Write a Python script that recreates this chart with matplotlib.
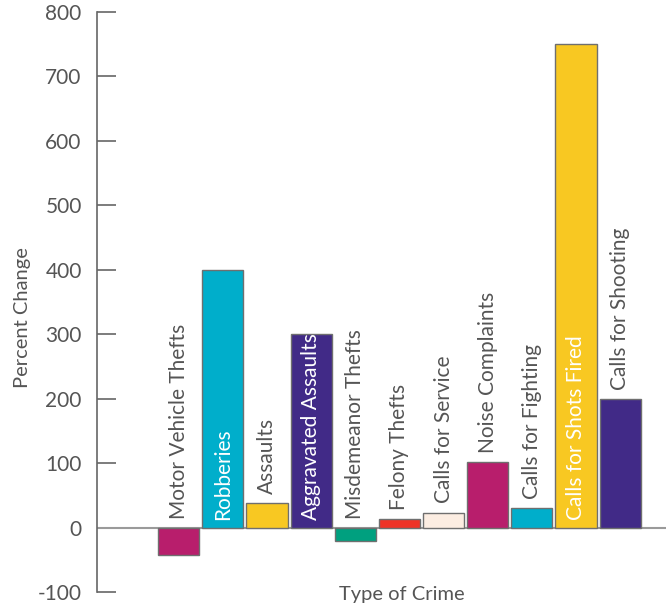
import matplotlib
matplotlib.use("Agg")
import matplotlib.pyplot as plt

plt.rcParams['font.family'] = ['Lato', 'DejaVu Sans']

categories = [
    "Motor Vehicle Thefts", "Robberies", "Assaults", "Aggravated Assaults",
    "Misdemeanor Thefts", "Felony Thefts", "Calls for Service",
    "Noise Complaints", "Calls for Fighting", "Calls for Shots Fired",
    "Calls for Shooting",
]
values = [-42, 400, 38, 300, -20, 14, 24, 103, 31, 750, 200]
colors = [
    "#B81E6C", "#00AECB", "#F8C822", "#412A87", "#00A07F", "#EE3327",
    "#FCEDE2", "#B81E6C", "#00AECB", "#F8C822", "#412A87",
]
inside_labels = {"Robberies", "Aggravated Assaults", "Calls for Shots Fired"}
yticks = [-100, 0, 100, 200, 300, 400, 500, 600, 700, 800]

text_color = "#555555"

fig = plt.figure(figsize=(6.71, 6.09), dpi=100)
ax = fig.add_axes([0.1446, 0.0271, 0.848, 0.9532])

x = list(range(len(categories)))
ax.bar(x, values, width=0.93, color=colors, edgecolor="#6f6f6f", linewidth=1.0, zorder=3)

for xi, name, v in zip(x, categories, values):
    if name in inside_labels:
        ax.text(xi, 12, name, rotation=90, ha="center", va="bottom",
                color="white", fontsize=15, zorder=4)
    else:
        base = max(v, 0) + 14
        ax.text(xi, base, name, rotation=90, ha="center", va="bottom",
                color=text_color, fontsize=15, zorder=4)

ax.axhline(0, color="#9a9a9a", linewidth=1.5, zorder=2)

ax.set_xlim(-1.85, 11.04)
ax.set_ylim(-100, 800)
ax.set_yticks(yticks)
ax.set_yticklabels([str(t) for t in yticks])
ax.set_xticks([])

for side in ["top", "right", "bottom"]:
    ax.spines[side].set_visible(False)
ax.spines["left"].set_color("#666666")
ax.spines["left"].set_linewidth(1.2)
ax.tick_params(axis="y", direction="in", length=14, width=1.2, color="#666666",
               labelcolor=text_color, labelsize=15, pad=11)

fig.text(0.033, 0.479, "Percent Change", rotation=90, ha="center", va="center",
         color=text_color, fontsize=14.5)
fig.text(0.599, 0.023, "Type of Crime", ha="center", va="center",
         color=text_color, fontsize=14.5)

fig.savefig("out.png", dpi=100)
